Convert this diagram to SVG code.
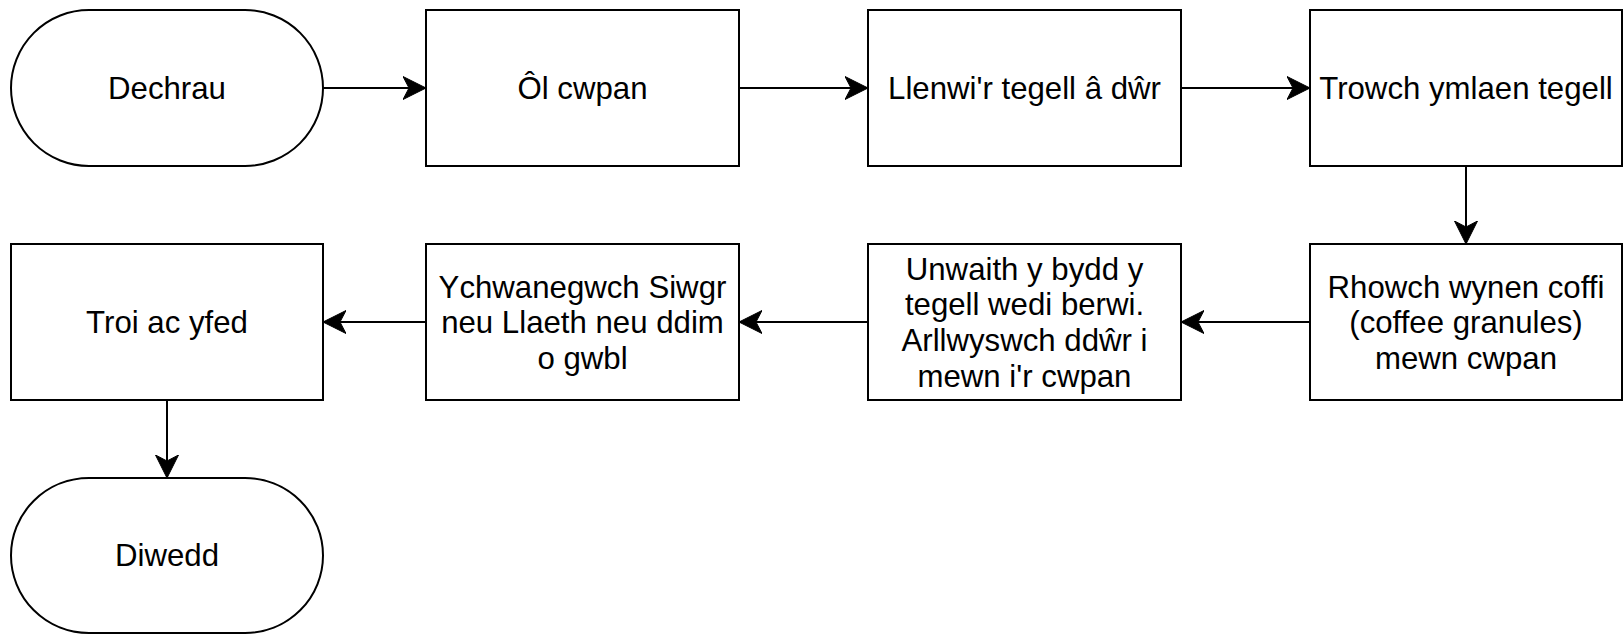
<svg xmlns="http://www.w3.org/2000/svg" width="1623" height="634" viewBox="0 0 1623 634">
  <style>
    .shape { fill: #ffffff; stroke: #000000; stroke-width: 2; }
    .label { font-family: "Liberation Sans", Arial, Helvetica, sans-serif; font-size: 31.2px; fill: #000000; text-anchor: middle; }
    .edge { fill: none; stroke: #000000; stroke-width: 2; }
  </style>
  <defs>
    <marker id="arrow" viewBox="0 0 24 24" refX="23" refY="12" markerWidth="24" markerHeight="24" markerUnits="userSpaceOnUse" orient="auto">
      <path d="M23,12 L0,0.5 L6,12 L0,23.5 Z" fill="#000000" stroke="#000000" stroke-width="1" stroke-linejoin="miter"/>
    </marker>
  </defs>

  <rect width="1623" height="634" fill="#ffffff"/>

  <!-- connectors -->
  <g id="connectors">
    <path class="edge" d="M323,88 L426,88" marker-end="url(#arrow)"/>
    <path class="edge" d="M739,88 L868,88" marker-end="url(#arrow)"/>
    <path class="edge" d="M1181,88 L1310,88" marker-end="url(#arrow)"/>
    <path class="edge" d="M1466,166 L1466,244" marker-end="url(#arrow)"/>
    <path class="edge" d="M1310,322 L1181,322" marker-end="url(#arrow)"/>
    <path class="edge" d="M868,322 L739,322" marker-end="url(#arrow)"/>
    <path class="edge" d="M426,322 L323,322" marker-end="url(#arrow)"/>
    <path class="edge" d="M167,400 L167,478" marker-end="url(#arrow)"/>
  </g>

  <!-- row 1 -->
  <g id="node-dechrau">
    <rect class="shape" x="11" y="10" width="312" height="156" rx="78" ry="78"/>
    <text class="label" x="167" y="99">Dechrau</text>
  </g>
  <g id="node-ol-cwpan">
    <rect class="shape" x="426" y="10" width="313" height="156"/>
    <text class="label" x="582.5" y="99">Ôl cwpan</text>
  </g>
  <g id="node-llenwi">
    <rect class="shape" x="868" y="10" width="313" height="156"/>
    <text class="label" x="1024.5" y="99">Llenwi'r tegell â dŵr</text>
  </g>
  <g id="node-trowch">
    <rect class="shape" x="1310" y="10" width="312" height="156"/>
    <text class="label" x="1466" y="99">Trowch ymlaen tegell</text>
  </g>

  <!-- row 2 -->
  <g id="node-rhowch">
    <rect class="shape" x="1310" y="244" width="312" height="156"/>
    <text class="label" x="1466" y="297.5">Rhowch wynen coffi</text>
    <text class="label" x="1466" y="333">(coffee granules)</text>
    <text class="label" x="1466" y="368.5">mewn cwpan</text>
  </g>
  <g id="node-unwaith">
    <rect class="shape" x="868" y="244" width="313" height="156"/>
    <text class="label" x="1024.5" y="279.5">Unwaith y bydd y</text>
    <text class="label" x="1024.5" y="315.2">tegell wedi berwi.</text>
    <text class="label" x="1024.5" y="350.9">Arllwyswch ddŵr i</text>
    <text class="label" x="1024.5" y="386.6">mewn i'r cwpan</text>
  </g>
  <g id="node-ychwanegwch">
    <rect class="shape" x="426" y="244" width="313" height="156"/>
    <text class="label" x="582.5" y="297.5">Ychwanegwch Siwgr</text>
    <text class="label" x="582.5" y="333">neu Llaeth neu ddim</text>
    <text class="label" x="582.5" y="368.5">o gwbl</text>
  </g>
  <g id="node-troi">
    <rect class="shape" x="11" y="244" width="312" height="156"/>
    <text class="label" x="167" y="333">Troi ac yfed</text>
  </g>

  <!-- row 3 -->
  <g id="node-diwedd">
    <rect class="shape" x="11" y="478" width="312" height="155" rx="78" ry="78"/>
    <text class="label" x="167" y="566">Diwedd</text>
  </g>
</svg>
